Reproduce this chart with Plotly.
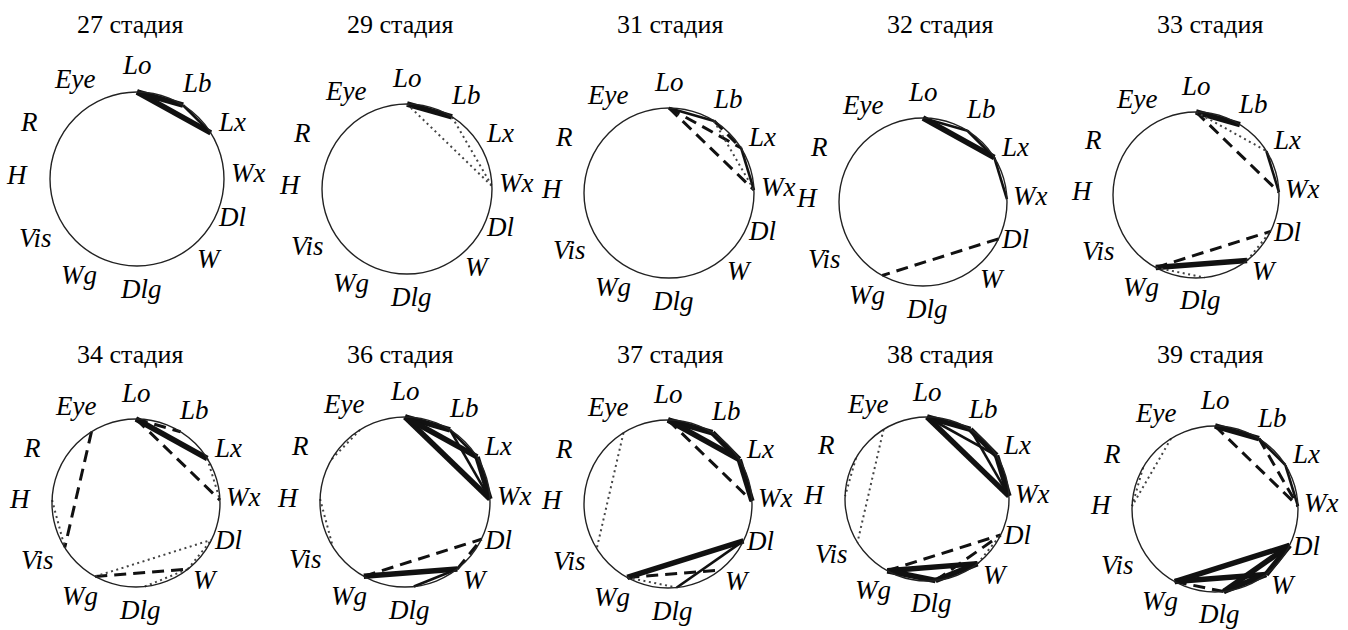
import math
import plotly.graph_objects as go

# ---------------- data ----------------
stages = ["27 стадия", "29 стадия", "31 стадия", "32 стадия", "33 стадия",
          "34 стадия", "36 стадия", "37 стадия", "38 стадия", "39 стадия"]
nodes = ["Lo", "Lb", "Lx", "Wx", "Dl", "W", "Dlg", "Wg", "Vis", "H", "R", "Eye"]
node_angles = [90, 58, 32, 2, -26, -52, -84, -119, -148, 178, 150, 122]

# strong correlations (thick solid)
strong_edges = [
    [("Lo", "Lb"), ("Lo", "Lx")],
    [("Lo", "Lb")],
    [],
    [("Lo", "Lx")],
    [("Lo", "Lb"), ("Wg", "W")],
    [("Lo", "Lx")],
    [("Lo", "Wx"), ("Lo", "Lb"), ("Lo", "Lx"), ("Lx", "Wx"), ("Wg", "W")],
    [("Lo", "Lb"), ("Lo", "Lx"), ("Lb", "Lx"), ("Lx", "Wx"), ("Wg", "Dl")],
    [("Lo", "Wx"), ("Lo", "Lb"), ("Lb", "Lx"), ("Lx", "Wx"), ("Wg", "W"), ("Wg", "Dlg"), ("Dlg", "W")],
    [("Lo", "Lb"), ("Wg", "Dl"), ("Wg", "W"), ("Dlg", "Dl"), ("W", "Dl"), ("Dlg", "W")],
]
# medium correlations (thin solid)
medium_edges = [
    [("Lb", "Lx")],
    [],
    [("Lo", "Lb"), ("Lx", "Wx")],
    [("Lo", "Lb"), ("Lb", "Lx"), ("Lx", "Wx")],
    [("Lx", "Wx")],
    [],
    [("Lb", "Wx"), ("Lb", "Lx"), ("Dlg", "W")],
    [("Dlg", "Dl")],
    [("Lo", "Lx"), ("Lb", "Wx")],
    [("Lx", "Wx"), ("Lb", "Lx")],
]
# moderate correlations (dashed)
dashed_edges = [
    [],
    [],
    [("Lo", "Lx"), ("Lo", "Wx"), ("Lb", "Lx")],
    [("Dl", "Wg")],
    [("Lo", "Wx"), ("Wg", "Dl")],
    [("Lo", "Wx"), ("Lo", "Lb"), ("Eye", "Vis"), ("Wg", "W")],
    [("Wg", "Dl"), ("W", "Dl")],
    [("Lo", "Wx"), ("Wg", "W")],
    [("Wg", "Dl"), ("Dlg", "Dl")],
    [("Lo", "Wx"), ("Lb", "Wx"), ("Wg", "Dlg")],
]
# weak correlations (dotted)
dotted_edges = [
    [],
    [("Lo", "Wx"), ("Lb", "Wx")],
    [("Lb", "Wx")],
    [],
    [("Lo", "Lx"), ("W", "Dl"), ("Wg", "Dlg")],
    [("H", "Vis"), ("Lx", "Wx"), ("Wg", "Dl"), ("W", "Dl"), ("Dlg", "W")],
    [("Eye", "R"), ("H", "Vis")],
    [("Eye", "Vis"), ("Wg", "Dlg")],
    [("Eye", "Vis"), ("R", "H"), ("W", "Dl")],
    [("Eye", "H"), ("R", "H")],
]

# ---------------- layout (pixels) ----------------
W_PX, H_PX = 1348, 630
panel_centers = [(137, 179, 87), (407, 189, 85), (669, 193, 85), (923, 202, 84), (1196, 195, 83),
                 (136, 503, 84), (405, 502, 85), (668, 504, 84), (927, 499, 82), (1215, 509, 83)]
title_pos = [(130, 25), (400, 25), (670, 25), (940, 25), (1210, 25),
             (130, 354), (400, 354), (670, 354), (940, 354), (1210, 354)]
label_angles = [90, 58, 31, 3, -22, -48, -88, -121, -150, 178, 152, 122]
label_radii = [1.31, 1.30, 1.28, 1.28, 1.18, 1.24, 1.27, 1.29, 1.35, 1.38, 1.40, 1.36]
HALF = 1.4

SERIF = "Liberation Serif"

def node_xy(name):
    a = math.radians(node_angles[nodes.index(name)])
    return math.cos(a), math.sin(a)

fig = go.Figure()
layout = dict(width=W_PX, height=H_PX, margin=dict(l=0, r=0, t=0, b=0),
              paper_bgcolor="white", plot_bgcolor="white", showlegend=False)
shapes = []
annotations = []

styles = [
    (strong_edges, dict(color="#111111", width=5.5)),
    (medium_edges, dict(color="#111111", width=2.6)),
    (dashed_edges, dict(color="#111111", width=3, dash="12px,7px")),
    (dotted_edges, dict(color="#444444", width=2, dash="2px,3.5px")),
]

for i, stage in enumerate(stages):
    cx, cy, r = panel_centers[i]
    k = "" if i == 0 else str(i + 1)
    xa, ya = "x" + k, "y" + k
    half_px = HALF * r
    layout["xaxis" + k] = dict(domain=[(cx - half_px) / W_PX, (cx + half_px) / W_PX],
                               range=[-HALF, HALF], visible=False, fixedrange=True)
    layout["yaxis" + k] = dict(domain=[1 - (cy + half_px) / H_PX, 1 - (cy - half_px) / H_PX],
                               range=[-HALF, HALF], visible=False, fixedrange=True)
    shapes.append(dict(type="circle", xref=xa, yref=ya, x0=-1, x1=1, y0=-1, y1=1,
                       line=dict(color="#222222", width=1.4)))
    for edges, line in styles:
        xs, ys = [], []
        for a, b in edges[i]:
            x0, y0 = node_xy(a)
            x1, y1 = node_xy(b)
            xs += [x0, x1, None]
            ys += [y0, y1, None]
        if xs:
            fig.add_trace(go.Scatter(x=xs, y=ys, mode="lines", line=line,
                                     xaxis=xa, yaxis=ya, hoverinfo="skip",
                                     cliponaxis=False))
    for j, name in enumerate(nodes):
        a = math.radians(label_angles[j])
        annotations.append(dict(x=label_radii[j] * math.cos(a), y=label_radii[j] * math.sin(a),
                                xref=xa, yref=ya, text="<i>" + name + "</i>", showarrow=False,
                                font=dict(family=SERIF, size=27, color="black"),
                                xanchor="center", yanchor="middle"))
    tx, ty = title_pos[i]
    annotations.append(dict(x=tx / W_PX, y=1 - ty / H_PX, xref="paper", yref="paper",
                            text=stage, showarrow=False,
                            font=dict(family=SERIF, size=26, color="black"),
                            xanchor="center", yanchor="middle"))

layout["shapes"] = shapes
layout["annotations"] = annotations
fig.update_layout(**layout)
fig.write_html("out.html", config={"displayModeBar": False},
               post_script="document.body.style.margin='0px';document.body.style.overflow='hidden';")
